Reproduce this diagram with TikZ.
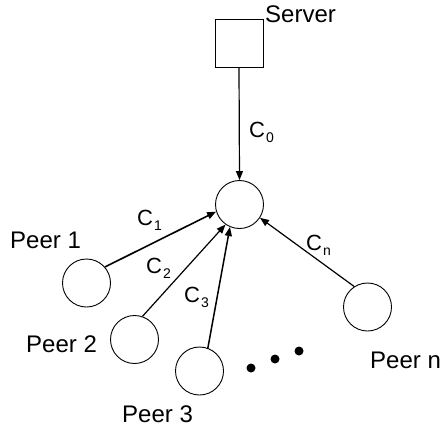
\documentclass[tikz,border=0pt]{standalone}
\usepackage{fontspec}
\setmainfont{Liberation Sans}
\usetikzlibrary{arrows.meta}
\tikzset{
  peer/.style={circle, draw, line width=0.9pt, minimum size=48pt, inner sep=0pt},
  srv/.style={rectangle, draw, line width=0.9pt, minimum size=48pt, inner sep=0pt},
  conn/.style={line width=1.2pt, -{Triangle[length=9pt,width=7pt]}},
  lbl/.style={anchor=base west, inner sep=0pt, font=\fontsize{24}{24}\selectfont},
  clbl/.style={anchor=base west, inner sep=0pt, font=\fontsize{22}{22}\selectfont},
  blackdot/.style={circle, fill, minimum size=9pt, inner sep=0pt}
}
\newcommand{\csub}[1]{C\kern1pt\raisebox{-5pt}{\fontsize{14}{14}\selectfont #1}}
\begin{document}
\begin{tikzpicture}[x=1pt,y=-1pt]
\useasboundingbox (0,0) rectangle (443,428);
\node[srv] (s) at (239,43) {};
\node[peer] (c) at (239.5,204.5) {};
\node[peer] (p1) at (86.5,283) {};
\node[peer] (p2) at (134.5,339.5) {};
\node[peer] (p3) at (199.5,371) {};
\node[peer] (pn) at (367.5,307) {};

\draw[conn] (s.south) -- (c.north);
\draw[conn, line width=1.6pt] (p1.41) -- (c.197);
\draw[conn] (p2.71) -- (c.235);
\draw[conn, line width=1.5pt] (p3.70) -- (c.247);
\draw[conn] (pn.123) -- (c.327);

\node[lbl] (tserver) at (265,23) {Server};
\node[lbl] (t1) at (10,248) {Peer 1};
\node[lbl] (t2) at (26,352) {Peer 2};
\node[lbl] (t3) at (122,422) {Peer 3};
\node[lbl] (tn) at (370,368) {Peer n};

\node[clbl] (l0) at (249,137) {\csub{0}};
\node[clbl] (l1) at (137,225) {\csub{1}};
\node[clbl] (l2) at (146,273) {\csub{2}};
\node[clbl] (l3) at (184,302) {\csub{3}};
\node[clbl] (ln) at (306,250) {\csub{n}};

\node[blackdot] (d1) at (251,368) {};
\node[blackdot] (d2) at (275,359) {};
\node[blackdot] (d3) at (299,351) {};
\end{tikzpicture}
\end{document}
